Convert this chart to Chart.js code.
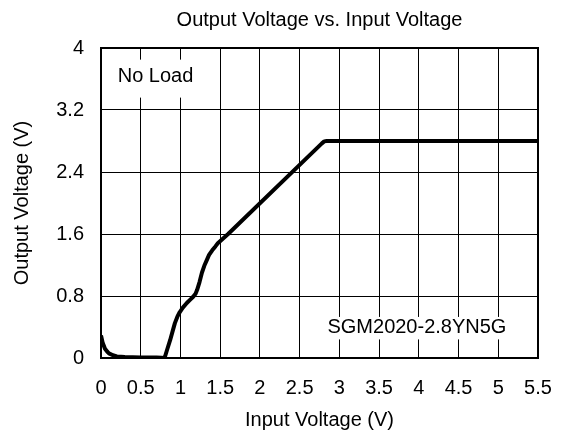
<!DOCTYPE html>
<html lang="en">
<head>
    <meta charset="UTF-8">
    <title>Output Voltage vs. Input Voltage</title>
    <style>
        body {
            margin: 0;
            background-color: #fff;
        }
        .chart-container {
            width: 563px;
            height: 434px;
        }
    </style>
</head>
<body>
    <div class="chart-container">
        <canvas id="voutChart"></canvas>
    </div>

    <script src="https://cdn.jsdelivr.net/npm/chart.js"></script>
    <script>
        // values
        var inputVoltage = [0, 0.02, 0.05, 0.08, 0.1, 0.15, 0.2, 0.3, 0.5, 0.7, 0.76, 0.8,
            0.83, 0.87, 0.9, 0.93, 0.96, 0.99, 1.03, 1.08, 1.12, 1.16, 1.19, 1.21, 1.24, 1.27,
            1.3, 1.33, 1.36, 1.4, 1.44, 1.47, 1.6, 2.78, 2.81, 2.84, 5.5];
        var outputVoltage = [0.29, 0.2, 0.12, 0.08, 0.06, 0.035, 0.02, 0.012, 0.008, 0.005, 0.003, 0,
            0.1, 0.23, 0.34, 0.45, 0.53, 0.59, 0.65, 0.71, 0.75, 0.79, 0.83, 0.88, 0.98, 1.1,
            1.19, 1.26, 1.33, 1.39, 1.44, 1.48, 1.6, 2.77, 2.795, 2.8, 2.8];
        var xTicks = [0, 0.5, 1, 1.5, 2, 2.5, 3, 3.5, 4, 4.5, 5, 5.5];
        var yTicks = [0, 0.8, 1.6, 2.4, 3.2, 4];
        var chartTitle = 'Output Voltage vs. Input Voltage';
        var notes = [
            { text: 'No Load', x: 0.21, y: 3.63, box: [0.05, 3.36, 1.3, 3.85] },
            { text: 'SGM2020-2.8YN5G', x: 2.85, y: 0.40, box: [2.79, 0.24, 5.26, 0.53] }
        ];

        var points = inputVoltage.map(function (v, i) {
            return { x: v, y: outputVoltage[i] };
        });

        var fontFamily = '"Liberation Sans", Arial, sans-serif';

        // title over the plot area, white boxes + notes, heavy frame
        var notesPlugin = {
            id: 'notes',
            beforeDatasetsDraw: function (chart) {
                var ctx = chart.ctx;
                var xs = chart.scales.x, ys = chart.scales.y;
                var a = chart.chartArea;
                ctx.save();
                ctx.fillStyle = '#000';
                ctx.font = '20px ' + fontFamily;
                ctx.textAlign = 'center';
                ctx.textBaseline = 'middle';
                ctx.fillText(chartTitle, (a.left + a.right) / 2, 20);

                notes.forEach(function (n) {
                    var x1 = xs.getPixelForValue(n.box[0]);
                    var x2 = xs.getPixelForValue(n.box[2]);
                    var y1 = ys.getPixelForValue(n.box[3]);
                    var y2 = ys.getPixelForValue(n.box[1]);
                    ctx.fillStyle = '#fff';
                    ctx.fillRect(x1, y1, x2 - x1, y2 - y1);
                    ctx.fillStyle = '#000';
                    ctx.textAlign = 'left';
                    ctx.fillText(n.text, xs.getPixelForValue(n.x), ys.getPixelForValue(n.y));
                });
                ctx.restore();
            },
            afterDatasetsDraw: function (chart) {
                var a = chart.chartArea;
                var ctx = chart.ctx;
                ctx.save();
                ctx.strokeStyle = '#000';
                ctx.lineWidth = 2;
                ctx.strokeRect(a.left, a.top, a.right - a.left, a.bottom - a.top);
                ctx.restore();
            }
        };

        var ctx = document.getElementById('voutChart').getContext('2d');
        var voutChart = new Chart(ctx, {
            type: 'scatter',
            data: {
                datasets: [{
                    label: 'Output Voltage',
                    data: points,
                    showLine: true,
                    borderColor: '#000',
                    borderWidth: 4,
                    borderJoinStyle: 'round',
                    pointRadius: 0,
                    tension: 0
                }]
            },
            options: {
                responsive: true,
                maintainAspectRatio: false,
                animation: false,
                layout: {
                    padding: { top: 48, right: 25, bottom: 0, left: 0 }
                },
                plugins: {
                    legend: { display: false },
                    tooltip: { enabled: false },
                    title: { display: false }
                },
                scales: {
                    x: {
                        type: 'linear',
                        min: 0,
                        max: 5.5,
                        afterBuildTicks: function (scale) {
                            scale.ticks = xTicks.map(function (v) { return { value: v }; });
                        },
                        afterFit: function (scale) {
                            scale.height = 76;
                            scale.paddingLeft = 0;
                            scale.paddingRight = 0;
                        },
                        ticks: {
                            color: '#000',
                            padding: 18,
                            font: { family: fontFamily, size: 20 },
                            callback: function (v) { return String(v); }
                        },
                        grid: {
                            color: '#000',
                            lineWidth: 1,
                            drawTicks: false
                        },
                        border: { color: '#000', width: 2 },
                        title: {
                            display: true,
                            text: 'Input Voltage (V)',
                            color: '#000',
                            font: { family: fontFamily, size: 20 },
                            padding: { top: 0, bottom: 2 }
                        }
                    },
                    y: {
                        type: 'linear',
                        min: 0,
                        max: 4,
                        afterBuildTicks: function (scale) {
                            scale.ticks = yTicks.map(function (v) { return { value: v }; });
                        },
                        afterFit: function (scale) {
                            scale.width = 101;
                            scale.paddingTop = 0;
                            scale.paddingBottom = 0;
                        },
                        ticks: {
                            color: '#000',
                            padding: 17,
                            font: { family: fontFamily, size: 20 },
                            callback: function (v) { return String(v); }
                        },
                        grid: {
                            color: '#000',
                            lineWidth: 1,
                            drawTicks: false
                        },
                        border: { color: '#000', width: 2 },
                        title: {
                            display: true,
                            text: 'Output Voltage (V)',
                            color: '#000',
                            font: { family: fontFamily, size: 20 },
                            padding: { top: 10, bottom: 0 }
                        }
                    }
                }
            },
            plugins: [notesPlugin]
        });
    </script>
</body>
</html>
